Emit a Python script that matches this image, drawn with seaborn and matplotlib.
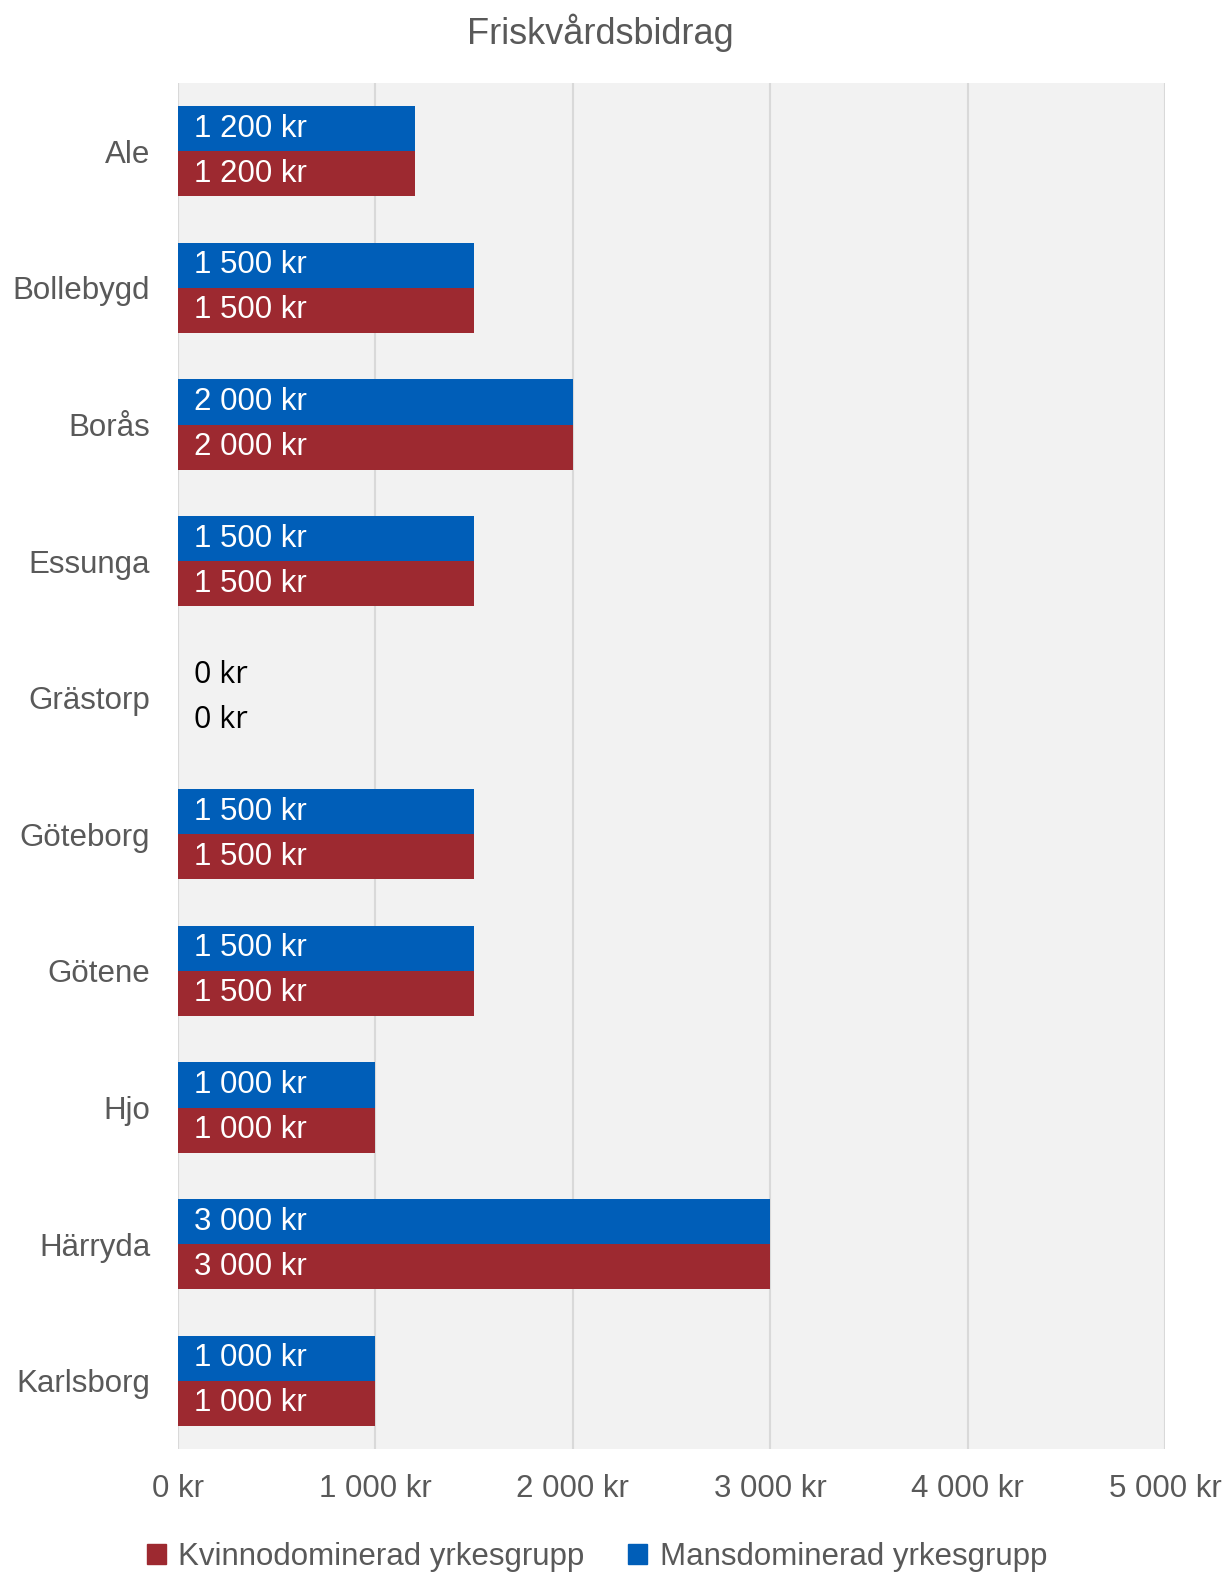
import numpy as np
import pandas as pd
import matplotlib
matplotlib.use('Agg')
import matplotlib.pyplot as plt
import seaborn as sns
from matplotlib.patches import Patch

kommuner = ['Ale', 'Bollebygd', 'Borås', 'Essunga', 'Grästorp', 'Göteborg',
            'Götene', 'Hjo', 'Härryda', 'Karlsborg']
mans = [1200, 1500, 2000, 1500, 0, 1500, 1500, 1000, 3000, 1000]
kvinno = [1200, 1500, 2000, 1500, 0, 1500, 1500, 1000, 3000, 1000]
grupper = ['Mansdominerad yrkesgrupp', 'Kvinnodominerad yrkesgrupp']
farger = {'Mansdominerad yrkesgrupp': '#005EB8', 'Kvinnodominerad yrkesgrupp': '#9D2930'}
xticks = [0, 1000, 2000, 3000, 4000, 5000]

def kr(v):
    return f"{v:,}".replace(",", " ") + " kr"

df = pd.DataFrame({
    'kommun': kommuner * 2,
    'varde': mans + kvinno,
    'grupp': [grupper[0]] * len(kommuner) + [grupper[1]] * len(kommuner),
})

sns.set_style('white')
plt.rcParams['font.family'] = ['Liberation Sans', 'DejaVu Sans']

fig = plt.figure(figsize=(12.26, 15.75), dpi=100)
# plot area in full-size pixels: x 178..1165, y 83..1449
ax = fig.add_axes([178/1226, 1 - 1449/1575, (1165 - 178)/1226, (1449 - 83)/1575])
ax.set_facecolor('#F2F2F2')

sns.barplot(data=df, y='kommun', x='varde', hue='grupp', hue_order=grupper,
            palette=farger, orient='h', width=0.66, saturation=1,
            edgecolor='none', linewidth=0, legend=False, ax=ax, zorder=3)

for cont in ax.containers:
    for bar in cont:
        v = bar.get_width()
        yc = bar.get_y() + bar.get_height() / 2
        if v == 0:
            ax.text(80, yc, kr(int(v)), va='center', ha='left', color='black',
                    fontsize=22, family=['Open Sans', 'DejaVu Sans'], zorder=4)
        else:
            ax.text(80, yc, kr(int(v)), va='center', ha='left', color='white',
                    fontsize=22.5, zorder=4)

ax.set_xlim(0, 5000)
ax.set_xticks(xticks)
ax.set_xticklabels([kr(t) for t in xticks])
ax.grid(axis='x', color='#D9D9D9', linewidth=1.5, zorder=0)
ax.grid(axis='y', visible=False)
for s in ['top', 'right', 'bottom', 'left']:
    ax.spines[s].set_visible(False)
ax.tick_params(axis='both', length=0, labelsize=22.5, labelcolor='#595959')
ax.tick_params(axis='y', pad=20)
ax.tick_params(axis='x', pad=18)
ax.set_xlabel('')
ax.set_ylabel('')

fig.text(0.49, 1 - 33/1575, 'Friskvårdsbidrag', ha='center', va='center',
         fontsize=26, color='#595959')

handles = [Patch(color=farger[grupper[1]], label=grupper[1]),
           Patch(color=farger[grupper[0]], label=grupper[0])]
fig.legend(handles=handles, loc='lower center', bbox_to_anchor=(0.487, 0.0),
           ncol=2, frameon=False, fontsize=22.5, labelcolor='#595959',
           handlelength=0.6, handleheight=0.6, handletextpad=0.4, columnspacing=1.4,
           borderaxespad=0.0, borderpad=0.1)

fig.savefig('out.png', dpi=100)
